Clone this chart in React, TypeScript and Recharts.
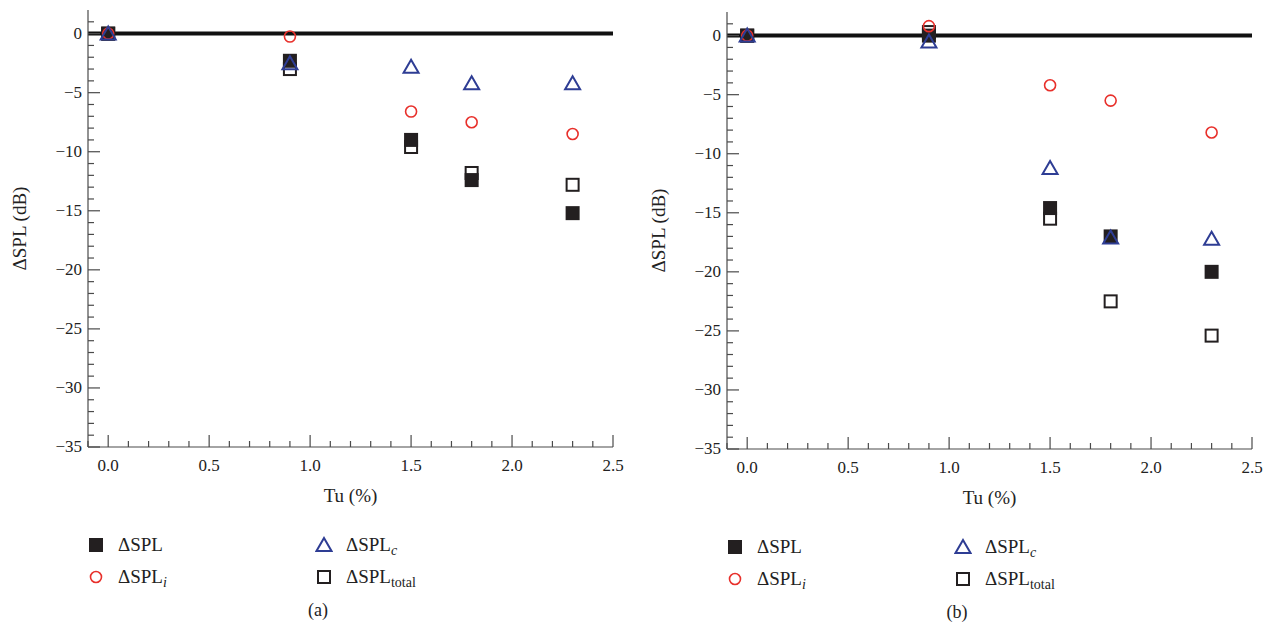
import React from "react";
import {
  ScatterChart,
  Scatter,
  XAxis,
  YAxis,
  ReferenceLine,
  Label,
} from "recharts";

// Tu (%) positions shared by both panels
const tu = [0, 0.9, 1.5, 1.8, 2.3];

// panel (a)
const splA = [0, -2.3, -9.0, -12.4, -15.2];
const splIA = [0, -0.25, -6.6, -7.5, -8.5];
const splCA = [0, -2.5, -2.8, -4.2, -4.2];
const splTotalA = [0, -3.0, -9.6, -11.8, -12.8];

// panel (b)
const splB = [0, 0.0, -14.6, -17.0, -20.0];
const splIB = [0, 0.8, -4.2, -5.5, -8.2];
const splCB = [0, -0.5, -11.2, -17.1, -17.2];
const splTotalB = [0, 0.3, -15.5, -22.5, -25.4];

const xLabels = [0, 0.5, 1.0, 1.5, 2.0, 2.5];
const yLabels = [0, -5, -10, -15, -20, -25, -30, -35];
const xDomain: [number, number] = [-0.1, 2.5];
const yDomain: [number, number] = [-35, 2];

// minor ticks every 0.1 on x and every 1 on y
const xTicks = Array.from({ length: 27 }, (_, i) => Math.round(i - 1) / 10);
const yTicks = Array.from({ length: 37 }, (_, i) => 1 - i);

const AXIS = "#4a4a4a";
const RED = "#e8302b";
const BLUE = "#2e3d94";
const BLACK = "#231f20";
const FONT = "'Liberation Serif', 'DejaVu Serif', serif";

const toPts = (ys: number[]) => tu.map((x, i) => ({ x, y: ys[i] }));
const fmt = (v: number) => (v < 0 ? "\u2212" + Math.abs(v) : String(v));
const near = (a: number, list: number[]) => list.some((b) => Math.abs(a - b) < 1e-6);

function BottomTick(props: any) {
  const { x, y, payload } = props;
  const major = near(payload.value, xLabels);
  return (
    <g>
      <line x1={x} x2={x} y1={y} y2={y - (major ? 12 : 6)} stroke={AXIS} strokeWidth={1.2} />
      {major && (
        <text x={x} y={y + 24} textAnchor="middle" fontSize={17} fill="#222" fontFamily={FONT}>
          {payload.value.toFixed(1)}
        </text>
      )}
    </g>
  );
}

function TopTick(props: any) {
  const { x, y, payload } = props;
  const major = near(payload.value, xLabels);
  return <line x1={x} x2={x} y1={y} y2={y + (major ? 12 : 6)} stroke={AXIS} strokeWidth={1.2} />;
}

function LeftTick(props: any) {
  const { x, y, payload } = props;
  const major = near(payload.value, yLabels);
  return (
    <g>
      <line x1={x} x2={x + (major ? 12 : 6)} y1={y} y2={y} stroke={AXIS} strokeWidth={1.2} />
      {major && (
        <text x={x - 6} y={y + 5} textAnchor="end" fontSize={17} fill="#222" fontFamily={FONT}>
          {fmt(payload.value)}
        </text>
      )}
    </g>
  );
}

function RightTick(props: any) {
  const { x, y, payload } = props;
  const major = near(payload.value, yLabels);
  return <line x1={x} x2={x - (major ? 12 : 6)} y1={y} y2={y} stroke={AXIS} strokeWidth={1.2} />;
}

const FilledSquare = (p: any) => (
  <rect x={p.cx - 7} y={p.cy - 7} width={14} height={14} fill={BLACK} />
);
const OpenSquare = (p: any) => (
  <rect x={p.cx - 6} y={p.cy - 6} width={12} height={12} fill="#fff" stroke={BLACK} strokeWidth={2} />
);
const Circle = (p: any) => (
  <circle cx={p.cx} cy={p.cy} r={5.5} fill="none" stroke={RED} strokeWidth={1.6} />
);
const Triangle = (p: any) => (
  <path
    d={`M${p.cx},${p.cy - 7} L${p.cx + 7.5},${p.cy + 6} L${p.cx - 7.5},${p.cy + 6} Z`}
    fill="none"
    stroke={BLUE}
    strokeWidth={2}
  />
);

function LegendMark({ kind }: { kind: string }) {
  return (
    <svg width={18} height={18} style={{ position: "absolute", left: -9, top: -9 }}>
      {kind === "filled" && <FilledSquare cx={9} cy={9} />}
      {kind === "open" && <OpenSquare cx={9} cy={9} />}
      {kind === "circle" && <Circle cx={9} cy={9} />}
      {kind === "tri" && <Triangle cx={9} cy={9} />}
    </svg>
  );
}

function LegendItem({ left, top, kind, sub, italic }: any) {
  return (
    <>
      <div style={{ position: "absolute", left, top }}>
        <LegendMark kind={kind} />
      </div>
      <div
        style={{
          position: "absolute",
          left: left + 22,
          top: top - 12,
          fontSize: 19,
          fontFamily: FONT,
          color: "#222",
          lineHeight: "24px",
          whiteSpace: "nowrap",
        }}
      >
        {"\u0394SPL"}
        {sub && (
          <sub style={{ fontSize: 14, fontStyle: italic ? "italic" : "normal", verticalAlign: "-4px" }}>
            {sub}
          </sub>
        )}
      </div>
    </>
  );
}

function Panel({ left, top, spl, splI, splC, splTotal, caption }: any) {
  return (
    <div style={{ position: "absolute", left, top, width: 640, height: 620 }}>
      <ScatterChart width={640} height={520} margin={{ top: 10, right: 27, bottom: 23, left: 18 }}>
        <XAxis
          xAxisId="b"
          type="number"
          dataKey="x"
          orientation="bottom"
          domain={xDomain}
          ticks={xTicks}
          interval={0}
          allowDataOverflow
          height={50}
          tickSize={0}
          tickMargin={0}
          tickLine={false}
          axisLine={{ stroke: AXIS, strokeWidth: 1.2 }}
          tick={<BottomTick />}
        >
          <Label
            content={(lp: any) => {
              const vb = lp.viewBox;
              return (
                <text x={vb.x + vb.width / 2} y={vb.y + 55} textAnchor="middle" fontSize={19} fill="#222" fontFamily={FONT}>
                  Tu (%)
                </text>
              );
            }}
          />
        </XAxis>
        <XAxis
          xAxisId="t"
          type="number"
          dataKey="x"
          orientation="top"
          domain={xDomain}
          ticks={xTicks}
          interval={0}
          allowDataOverflow
          height={0}
          tickSize={0}
          tickMargin={0}
          tickLine={false}
          axisLine={{ stroke: AXIS, strokeWidth: 1.2 }}
          tick={<TopTick />}
        />
        <YAxis
          yAxisId="l"
          type="number"
          dataKey="y"
          orientation="left"
          domain={yDomain}
          ticks={yTicks}
          interval={0}
          allowDataOverflow
          width={70}
          tickSize={0}
          tickMargin={0}
          tickLine={false}
          axisLine={{ stroke: AXIS, strokeWidth: 1.2 }}
          tick={<LeftTick />}
        >
          <Label
            content={(lp: any) => {
              const vb = lp.viewBox;
              const cy = vb.y + vb.height / 2;
              return (
                <text
                  x={vb.x + 1}
                  y={cy}
                  transform={`rotate(-90, ${vb.x + 1}, ${cy})`}
                  textAnchor="middle"
                  dominantBaseline="central"
                  fontSize={19}
                  fill="#222"
                  fontFamily={FONT}
                >
                  {"\u0394SPL (dB)"}
                </text>
              );
            }}
          />
        </YAxis>
        <YAxis
          yAxisId="r"
          type="number"
          dataKey="y"
          orientation="right"
          domain={yDomain}
          ticks={yTicks}
          interval={0}
          allowDataOverflow
          width={0}
          tickSize={0}
          tickMargin={0}
          tickLine={false}
          axisLine={{ stroke: AXIS, strokeWidth: 1.2 }}
          tick={<RightTick />}
        />
        <ReferenceLine xAxisId="b" yAxisId="l" y={0} stroke="#111" strokeWidth={4} />
        <Scatter xAxisId="t" yAxisId="r" data={toPts(splTotal)} shape={() => <g />} isAnimationActive={false} />
        <Scatter xAxisId="b" yAxisId="l" data={toPts(splTotal)} shape={OpenSquare} isAnimationActive={false} />
        <Scatter xAxisId="b" yAxisId="l" data={toPts(spl)} shape={FilledSquare} isAnimationActive={false} />
        <Scatter xAxisId="b" yAxisId="l" data={toPts(splI)} shape={Circle} isAnimationActive={false} />
        <Scatter xAxisId="b" yAxisId="l" data={toPts(splC)} shape={Triangle} isAnimationActive={false} />
      </ScatterChart>
      <LegendItem left={96} top={545} kind="filled" />
      <LegendItem left={96} top={577} kind="circle" sub="i" italic />
      <LegendItem left={324} top={545} kind="tri" sub="c" italic />
      <LegendItem left={324} top={577} kind="open" sub="total" />
      <div
        style={{
          position: "absolute",
          left: 318,
          top: 610,
          transform: "translate(-50%, -50%)",
          fontSize: 18,
          fontFamily: FONT,
          color: "#222",
        }}
      >
        {caption}
      </div>
    </div>
  );
}

export default function App() {
  return (
    <div style={{ position: "absolute", left: 0, top: 0, width: 1275, height: 626, background: "#fff" }}>
      <Panel left={0} top={0} spl={splA} splI={splIA} splC={splCA} splTotal={splTotalA} caption="(a)" />
      <Panel left={639} top={2} spl={splB} splI={splIB} splC={splCB} splTotal={splTotalB} caption="(b)" />
    </div>
  );
}
